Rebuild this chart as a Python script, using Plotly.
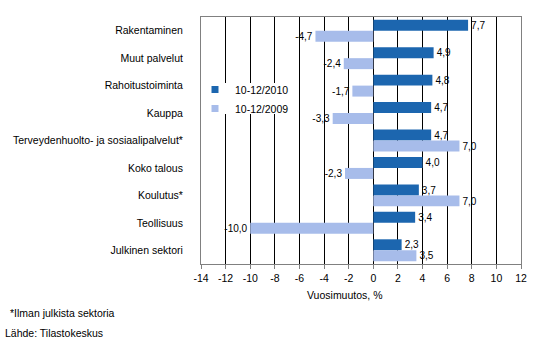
import plotly.graph_objects as go

categories = ["Rakentaminen", "Muut palvelut", "Rahoitustoiminta", "Kauppa",
              "Terveydenhuolto- ja sosiaalipalvelut*", "Koko talous", "Koulutus*",
              "Teollisuus", "Julkinen sektori"]
s2010 = [7.7, 4.9, 4.8, 4.7, 4.7, 4.0, 3.7, 3.4, 2.3]
s2009 = [-4.7, -2.4, -1.7, -3.3, 7.0, -2.3, 7.0, -10.0, 3.5]
names = ["10-12/2010", "10-12/2009"]
colors = ["#1C66AF", "#A7BCEA"]
ticks = list(range(-14, 13, 2))

def fmt(v):
    return f"{v:.1f}".replace(".", ",")

W, H = 541, 357
L, R, T, B = 201, 20, 17, 93
ph = H - T - B
pw = W - L - R

def px(x):
    return (x - L) / pw

def py(y):
    return (H - B - y) / ph

fig = go.Figure()
for name, vals, col in zip(names, [s2010, s2009], colors):
    fig.add_trace(go.Bar(
        y=categories, x=vals, name=name, orientation="h",
        marker=dict(color=col, line=dict(width=0)),
        text=[fmt(v) for v in vals], textposition="outside",
        textfont=dict(size=11, color="black"), cliponaxis=False,
        showlegend=False,
    ))
# legend entries with small square symbols
for name, col in zip(names, colors):
    fig.add_trace(go.Scatter(
        x=[None], y=[None], mode="markers", name=name,
        marker=dict(symbol="square", size=7, color=col),
        showlegend=True,
    ))

fig.update_layout(
    width=W, height=H, margin=dict(l=L, r=R, t=T, b=B, autoexpand=False),
    paper_bgcolor="white", plot_bgcolor="white",
    font=dict(family="Liberation Sans, Arial, sans-serif", size=10, color="black"),
    barmode="group", bargap=0.2, bargroupgap=0,
    showlegend=True,
    legend=dict(x=px(195), y=py(75), xanchor="left", yanchor="top",
                bgcolor="rgba(0,0,0,0)", font=dict(size=10.5), tracegroupgap=0,
                itemwidth=30, borderwidth=0),
    xaxis=dict(range=[-14, 12], tickvals=ticks, ticktext=[str(t) for t in ticks],
               showgrid=True, gridcolor="black", gridwidth=1,
               zeroline=True, zerolinecolor="black", zerolinewidth=1,
               showline=True, linecolor="#808080", linewidth=1, mirror=True,
               ticks="outside", ticklen=4, tickcolor="#808080",
               tickfont=dict(size=10.5), automargin=False),
    yaxis=dict(autorange="reversed", showgrid=False, showline=True,
               linecolor="#808080", linewidth=1, mirror=True,
               ticks="", ticklabelstandoff=15, tickfont=dict(size=10.5),
               automargin=False),
    shapes=[dict(type="rect", xref="paper", yref="paper",
                 x0=px(221), x1=px(286), y0=py(114), y1=py(83),
                 fillcolor="white", line=dict(width=0), layer="above")],
    annotations=[
        dict(text="Vuosimuutos, %", xref="paper", yref="paper",
             x=px(344), y=py(295), xanchor="center", yanchor="middle",
             showarrow=False, font=dict(size=10.5)),
        dict(text="*Ilman julkista sektoria", xref="paper", yref="paper",
             x=px(8), y=py(313), xanchor="left", yanchor="middle",
             showarrow=False, font=dict(size=10.5)),
        dict(text="Lähde: Tilastokeskus", xref="paper", yref="paper",
             x=px(3), y=py(333), xanchor="left", yanchor="middle",
             showarrow=False, font=dict(size=10.5)),
    ],
)

fig.write_html("out.html", config={"displayModeBar": False},
               post_script="document.body.style.margin='0';")
